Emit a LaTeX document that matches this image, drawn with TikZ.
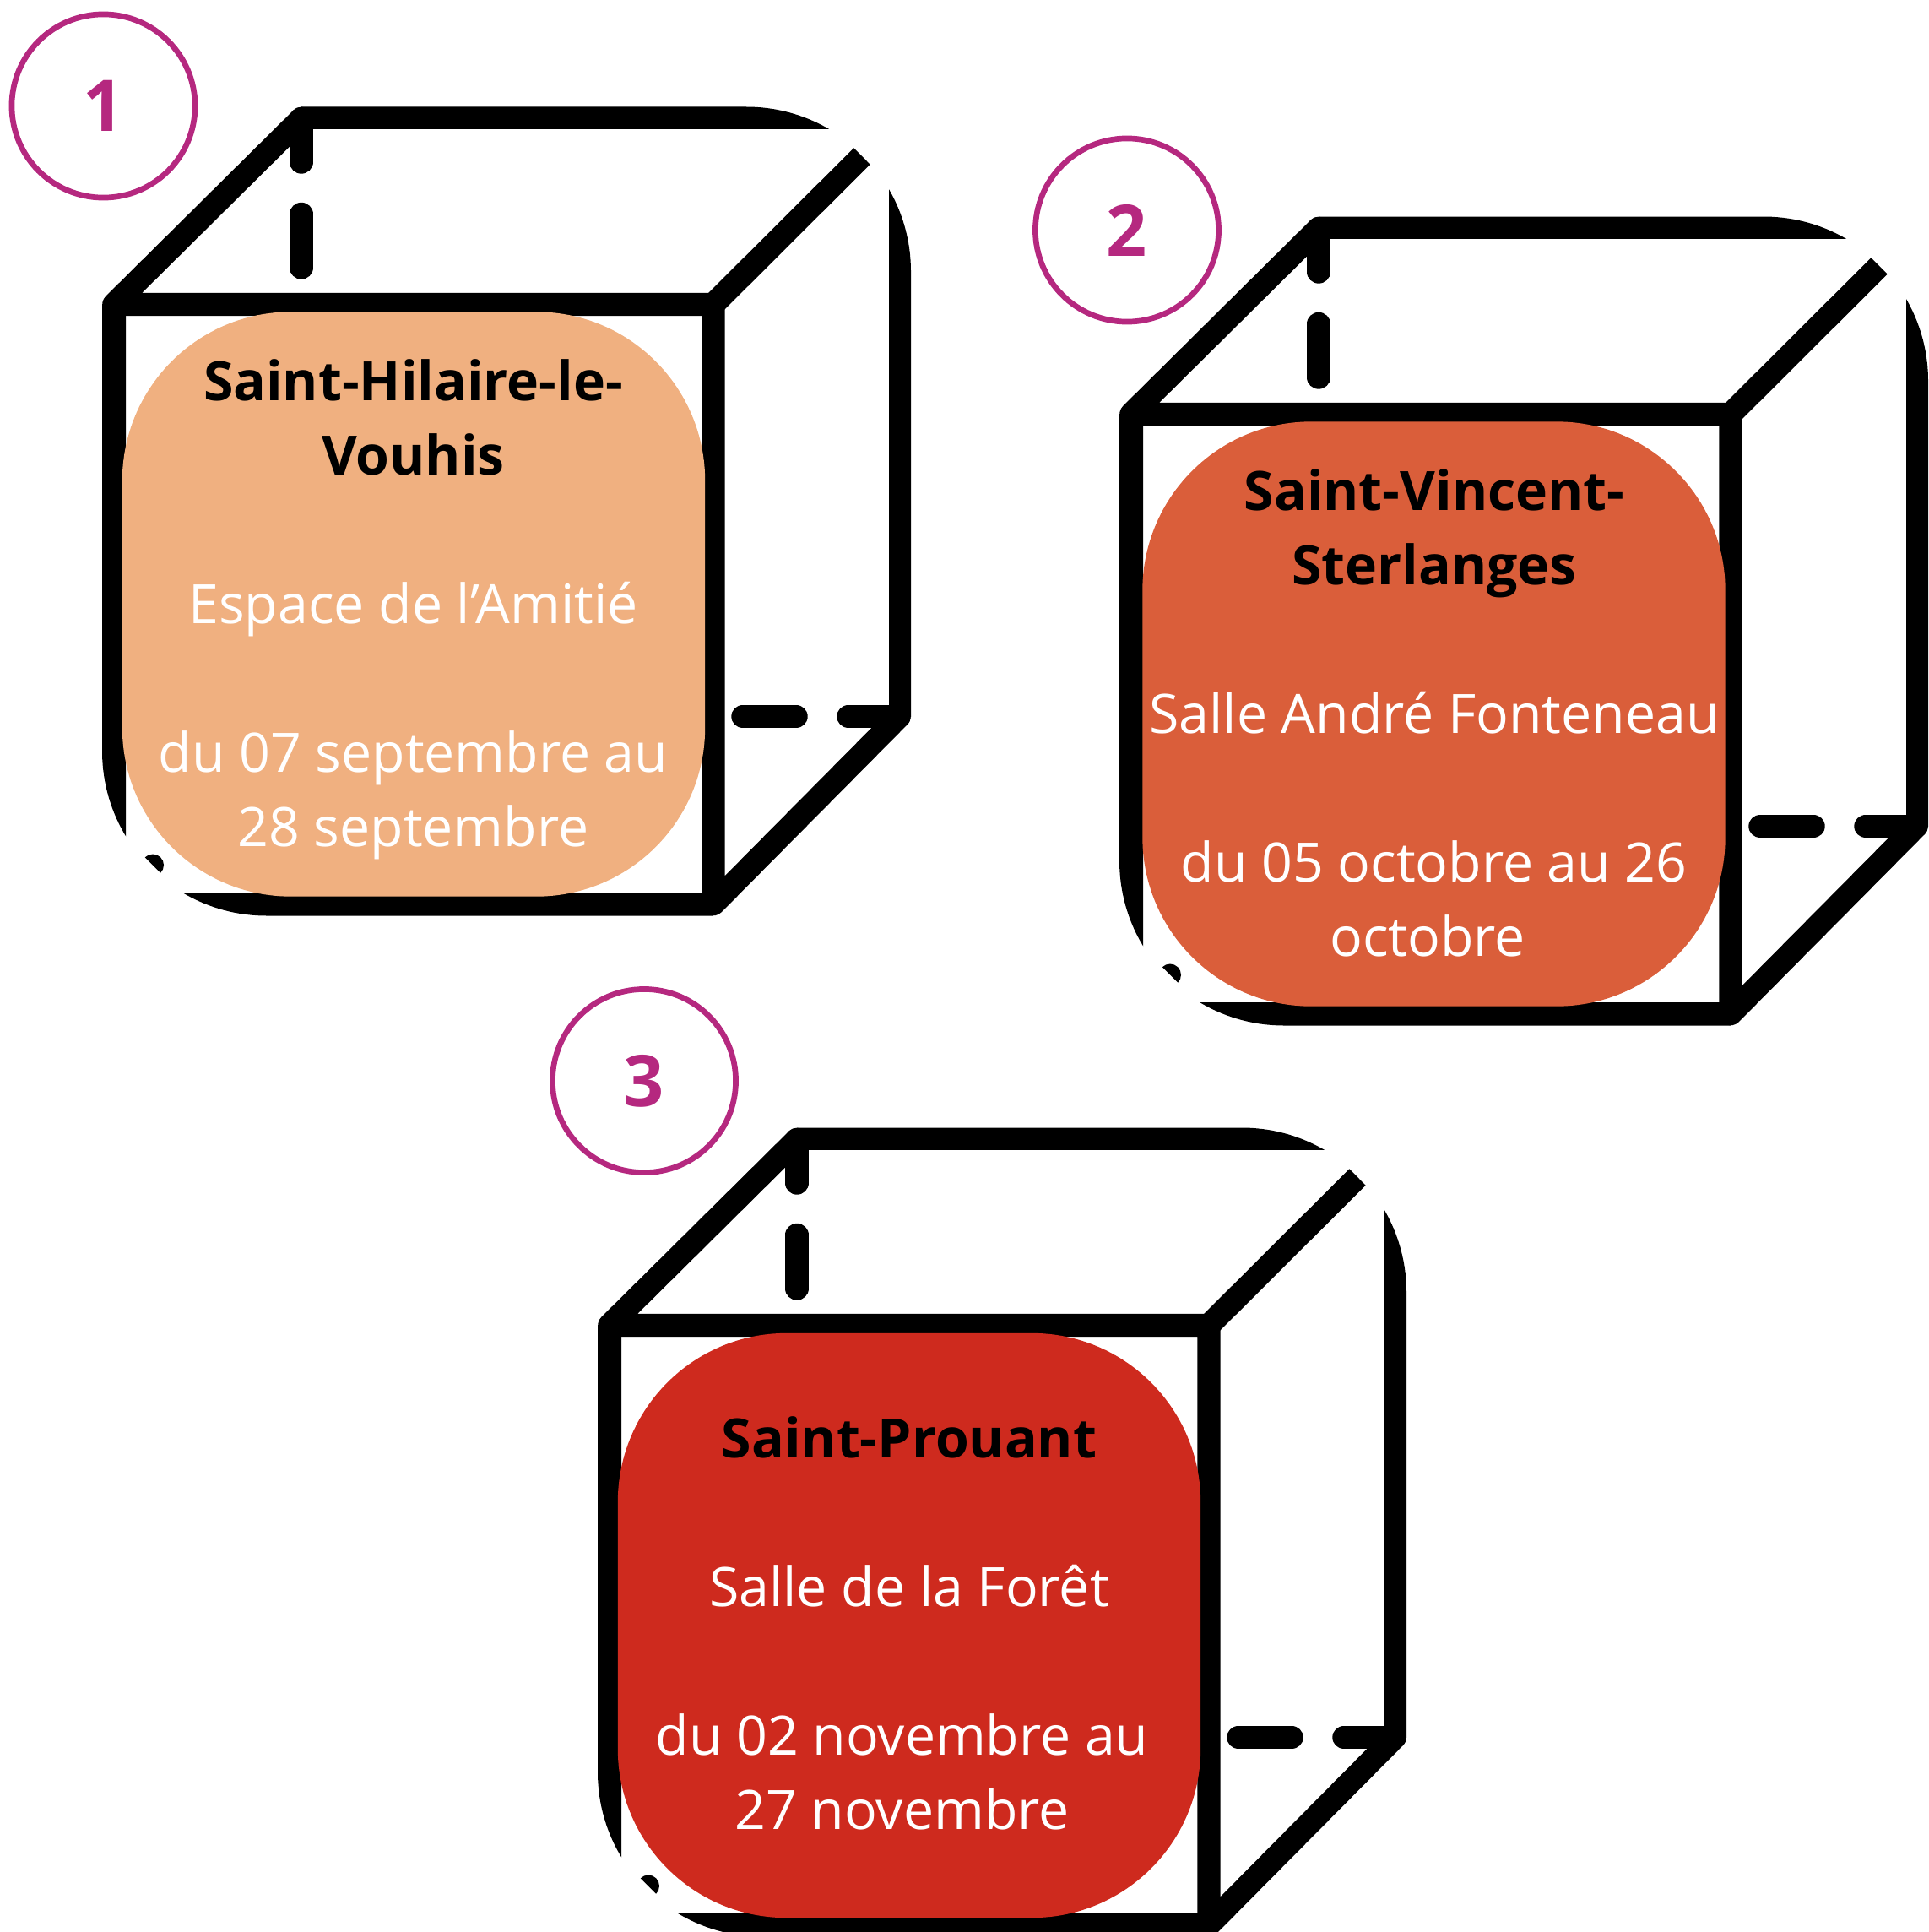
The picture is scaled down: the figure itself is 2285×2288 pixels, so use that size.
\documentclass[tikz,border=0pt]{standalone}
\usepackage{fontspec}
\setmainfont{Open Sans}
\definecolor{orangeA}{RGB}{240,176,128}
\definecolor{orangeB}{RGB}{218,94,58}
\definecolor{redC}{RGB}{206,42,30}
\definecolor{magentaN}{RGB}{181,40,127}
\newcommand{\outline}{(0,0) -- (763,0) arc[start angle=-90,end angle=0,radius=195] -- (958,958) -- (195,958) arc[start angle=90,end angle=180,radius=195] -- cycle}
\newcommand{\cubeicon}{%
  \begin{scope}\clip (236,-5) rectangle (965,26); \fill[black] \outline; \end{scope}
  \begin{scope}\clip (932,0) rectangle (965,722); \fill[black] \outline; \end{scope}
  \begin{scope}\clip (-5,234) rectangle (28,960); \fill[black] \outline; \end{scope}
  \begin{scope}\clip (0,931) rectangle (724,965); \fill[black] \outline; \end{scope}
  \coordinate (fl) at (14,234); \coordinate (fr) at (724,234);
  \coordinate (br) at (724,944); \coordinate (bt) at (236,14);
  \coordinate (tr) at (900,58.5); \coordinate (rb) at (944,722);
  \draw[cubeline] (bt) -- (fl) -- (fr) -- (br) -- (rb);
  \draw[cubeline,line cap=butt] (fr) -- (tr);
  \draw[cubeline] (bt) -- (236,65.5);
  \draw[cubeline] (236,127) -- (236,190.5);
  \draw[cubeline] (759,722) -- (822,722);
  \draw[cubeline] (884,722) -- (rb);
  \fill[black] (69.2,907.2) arc[start angle=45,end angle=-135,radius=13] -- cycle;
}
\tikzset{
  x=0.01cm,y=-0.01cm,
  cubeline/.style={black,line width=7.8pt,line cap=round,line join=round},
  infobox/.style={rectangle,rounded corners=2cm,minimum width=6.9cm,minimum height=6.92cm,inner sep=0pt,fill=#1},
  titletext/.style={anchor=base,align=center,inner sep=0pt,black,font=\fontsize{18.3}{25}\selectfont\bfseries},
  bodytext/.style={anchor=base,align=center,inner sep=0pt,white,font=\fontsize{18.3}{25}\selectfont},
  numcircle/.style={circle,draw=magentaN,line width=1.9pt,fill=white,minimum size=2.17cm,inner sep=0pt,text=magentaN,font=\fontsize{24}{28}\selectfont\bfseries},
}
\begin{document}
\begin{tikzpicture}
\useasboundingbox (0,0) rectangle (2285,2288);
\fill[white] (0,0) rectangle (2285,2288);
% Box 1
\begin{scope}[shift={(121,126.5)}]
  \cubeicon
  \node[infobox=orangeA] (b1) at (369,589) {};
  \node[titletext] (t1a) at (368.5,347.5) {Saint-Hilaire-le-};
  \node[titletext] (t1b) at (368.5,435.5) {Vouhis};
  \node[bodytext] (v1) at (368.5,611.5) {Espace de l’Amitié};
  \node[bodytext] (d1a) at (368.5,787.5) {du 07 septembre au};
  \node[bodytext] (d1b) at (368.5,875.5) {28 septembre};
\end{scope}
% Box 2
\begin{scope}[shift={(1326,256.5)}]
  \cubeicon
  \node[infobox=orangeB] (b2) at (372.5,589) {};
  \node[titletext] (t2a) at (373,347.5) {Saint-Vincent-};
  \node[titletext] (t2b) at (373,435.5) {Sterlanges};
  \node[bodytext] (v2) at (373,611.5) {Salle André Fonteneau};
  \node[bodytext] (d2a) at (372.5,787.5) {du 05 octobre au 26};
  \node[bodytext] (d2b) at (365,875.5) {octobre};
\end{scope}
% Box 3
\begin{scope}[shift={(708,1335.5)}]
  \cubeicon
  \node[infobox=redC] (b3) at (369,589.5) {};
  \node[titletext] (t3a) at (369,391) {Saint-Prouant};
  \node[bodytext] (v3) at (369,567) {Salle de la Forêt};
  \node[bodytext] (d3a) at (360.5,743) {du 02 novembre au};
  \node[bodytext] (d3b) at (360.5,831) {27 novembre};
\end{scope}
\node[numcircle] (c1) at (122.5,125.5) {\raisebox{-0.85pt}{1}};
\node[numcircle] (c2) at (1335,272.5) {\raisebox{-0.3pt}{2}};
\node[numcircle] (c3) at (763,1280) {\raisebox{-0.9pt}{3}};
\end{tikzpicture}
\end{document}
